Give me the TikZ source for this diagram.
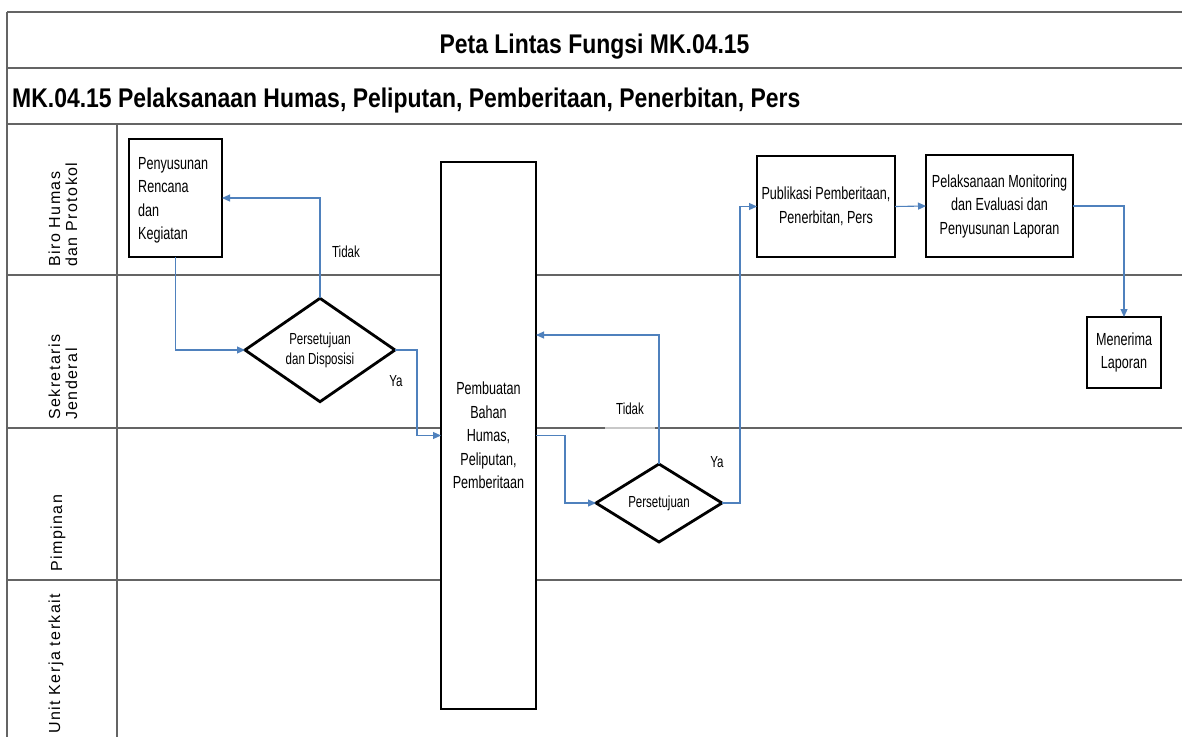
\documentclass[tikz,border=0pt]{standalone}
\usepackage{fontspec}
\setmainfont{Liberation Sans}
\newfontfamily\boxfont[FakeStretch=0.72]{Liberation Sans}
\newfontfamily\hdfont[FakeStretch=0.85]{Liberation Sans}
\newfontfamily\lanefont[LetterSpace=9]{Liberation Sans}
\usetikzlibrary{shapes.geometric,arrows.meta,calc}
\definecolor{flowblue}{RGB}{79,129,189}
\definecolor{lanegray}{RGB}{100,100,100}
\begin{document}
\begin{tikzpicture}[x=1pt,y=-1pt,
  laneline/.style={draw=lanegray, line width=2pt},
  procbox/.style={draw=black, line width=2.8pt, fill=white, rectangle, inner sep=0pt, outer sep=0pt, font=\boxfont\fontsize{17.5}{23.5}\selectfont, align=center},
  decision/.style={draw=black, line width=2.8pt, fill=white, diamond, inner sep=0pt, outer sep=0pt, font=\boxfont\fontsize{16}{20}\selectfont, align=center},
  flow/.style={draw=flowblue, line width=1.1pt, -{Triangle[length=8pt,width=7pt]}},
  lbl/.style={font=\boxfont\fontsize{16}{20}\selectfont, inner sep=0pt},
  lanelbl/.style={font=\lanefont\fontsize{16}{17}\selectfont, rotate=90, anchor=west, align=left, inner sep=0pt},
  heading/.style={font=\hdfont\bfseries\fontsize{27}{30}\selectfont, inner sep=0pt}]
\useasboundingbox (0,0) rectangle (1182,736);
\fill[white] (0,0) rectangle (1182,736);
% frame and lanes
\draw[laneline] (7,12) -- (1182,12);
\draw[laneline] (7,68) -- (1182,68);
\draw[laneline] (7,124) -- (1182,124);
\draw[laneline] (7,275) -- (1182,275);
\draw[laneline] (7,428) -- (1182,428);
\draw[laneline] (7,580) -- (1182,580);
\draw[laneline] (7,12) -- (7,737);
\draw[laneline] (117,124) -- (117,737);
% headings
\node[heading, anchor=base] (title) at (594.5,53) {Peta Lintas Fungsi MK.04.15};
\node[heading, anchor=base west] (sub) at (12,107) {MK.04.15 Pelaksanaan Humas, Peliputan, Pemberitaan, Penerbitan, Pers};
% lane labels
\node[lanelbl] (l1) at (63,267) {Biro Humas\\dan Protokol};
\node[lanelbl] (l2) at (63,420) {Sekretaris\\Jenderal};
\node[lanelbl] (l3) at (58,572) {Pimpinan};
\node[lanelbl] (l4) at (56,734) {Unit Kerja terkait};
% process nodes
\node[procbox, minimum width=93pt, minimum height=118pt] (pen) at (175.5,198) {};
\node[anchor=north west, inner sep=0pt, align=left, font=\boxfont\fontsize{17.5}{23.5}\selectfont] (pentext) at (138,157) {Penyusunan\\Rencana\\dan\\Kegiatan};
\node[decision, minimum width=150pt, minimum height=76pt] (d1) at (320,350) {Persetujuan\\dan Disposisi};
\node[procbox, minimum width=95pt, minimum height=547pt] (big) at (488.5,435.5) {Pembuatan\\Bahan\\Humas,\\Peliputan,\\Pemberitaan};
\node[decision, minimum width=126pt, minimum height=78pt] (d2) at (659,503) {Persetujuan};
\node[procbox, minimum width=138pt, minimum height=101pt] (pub) at (826,206.5) {Publikasi Pemberitaan,\\Penerbitan, Pers};
\node[procbox, minimum width=147pt, minimum height=102pt] (pel) at (999.5,206) {Pelaksanaan Monitoring\\dan Evaluasi dan\\Penyusunan Laporan};
\node[procbox, minimum width=74pt, minimum height=71pt] (men) at (1124,352.5) {Menerima\\Laporan};
% connectors
\draw[flow] (pen.south) |- (d1.west);
\draw[flow] (d1.north) |- (pen.east);
\draw[flow] (d1.east) -- ++(22,0) |- (big.west);
\draw[flow] (big.east) -- ++(29,0) |- (d2.west);
\draw[flow] (d2.north) |- (big.east |- 0,335);
\draw[flow] (d2.east) -- ++(18,0) |- (pub.west);
\draw[flow] (pub.east) -- (pel.west);
\draw[flow] (pel.east) -| (men.north);
% labels
\node[lbl] (t1) at (346,252) {Tidak};
\node[lbl] (y1) at (396,381) {Ya};
\node[lbl, fill=white, fill opacity=0.65, text opacity=1, minimum width=50pt, minimum height=42pt] (t2) at (630,409) {Tidak};
\node[lbl] (y2) at (717,462) {Ya};
\end{tikzpicture}
\end{document}
